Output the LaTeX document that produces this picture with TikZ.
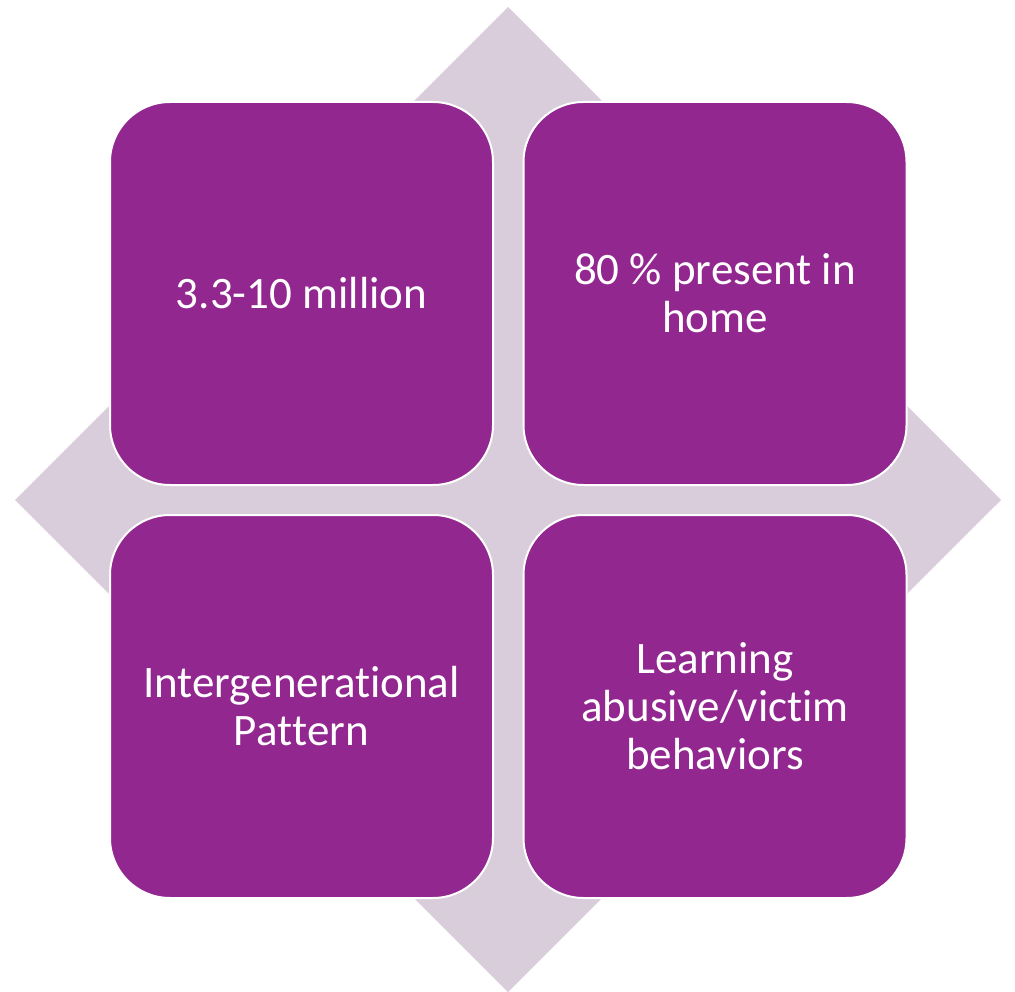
\documentclass[tikz,border=0pt]{standalone}
\usepackage{fontspec}
\setmainfont{Carlito}
% a zero kern splits the glyph run, so t+i and t+t stay separate letters
\newcommand{\nl}{\kern0pt{}}
\definecolor{boxpurple}{RGB}{146,39,143}
\definecolor{diamondmauve}{RGB}{218,205,219}
\begin{document}
\begin{tikzpicture}[x=1pt,y=-1pt,
  tile/.style={draw=white, line width=2pt, fill=boxpurple, rounded corners=60pt,
    minimum width=383pt, minimum height=383pt, text=white, align=center,
    font=\fontsize{45}{48}\selectfont, inner sep=0pt}]
  \useasboundingbox (0,0) rectangle (1015,992);
  % background diamond
  \fill[diamondmauve] (508,7) -- (1001,500) -- (508,992) -- (15,500) -- cycle;
  % four tiles
  \node[tile] (tl) at (301.5,293.5) {3.3-10 million};
  \node[tile] (tr) at (715,293.5) {80 \% present in\\home};
  \node[tile] (bl) at (301.5,706.5) {Intergenerat\nl ional\\Pat\nl t\nl ern};
  \node[tile] (br) at (715,706.5) {Learning\\abusive/vict\nl im\\behaviors};
\end{tikzpicture}
\end{document}
